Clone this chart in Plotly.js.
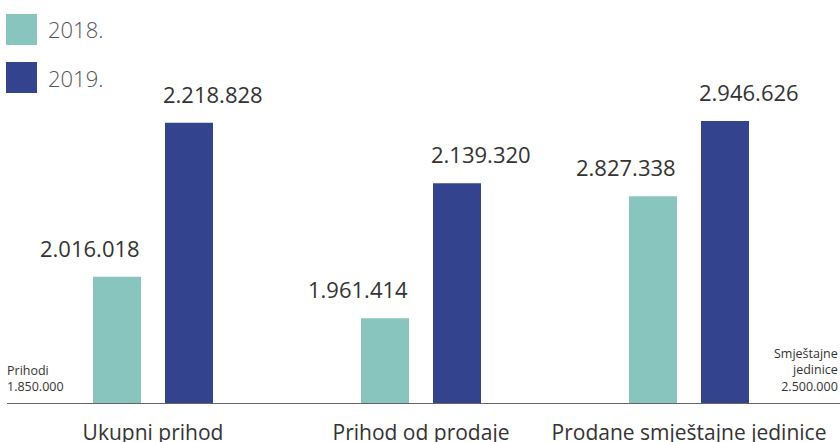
<!DOCTYPE html>
<html>
<head>
<meta charset="utf-8">
<script src="https://cdn.plot.ly/plotly-3.0.1.min.js"></script>
<style>
html,body{margin:0;padding:0;background:#fff;}
#chart{width:840px;height:442px;}
</style>
</head>
<body>
<div id="chart"></div>
<script>
// ---- data ----
const categories = ["Ukupni prihod", "Prihod od prodaje", "Prodane smještajne jedinice"];
const seriesNames = ["2018.", "2019."];
const values2018 = [2016018, 1961414, 2827338];
const values2019 = [2218828, 2139320, 2946626];
const axisOfCategory = ["y", "y", "y2"];   // first two on "Prihodi", last on "Smještajne jedinice"
const leftBase = 1850000;
const rightBase = 2500000;
const leftAxisLabel = "Prihodi<br>1.850.000";
const rightAxisLabel = "Smještajne<br>jedinice<br>2.500.000";

// ---- style ----
const colors = ["#87C5BE", "#33438D"];
const fontFam = "'Open Sans', 'Noto Sans', sans-serif";
const W = 840, H = 442;
const margin = {l: 7, r: 0, t: 0, b: 39};
const plotW = W - margin.l - margin.r;
const plotH = H - margin.t - margin.b;
const slotPx = 268;
const barPx = 48, innerGapPx = 24;
const unit = 1 / slotPx;
const firstCenterPx = 153;
const xStart = -(firstCenterPx - margin.l) * unit;
const xEnd = xStart + plotW * unit;
const leftPerPx = 1316, rightPerPx = 1584;

const offsets = [-(barPx + innerGapPx / 2) * unit, (innerGapPx / 2) * unit];
const seriesVals = [values2018, values2019];
// label anchoring: 2018 labels end at the bar's right edge, 2019 labels start at the bar's left edge
const labelX = [offsets[0] + barPx * unit, offsets[1]];
const labelAnchor = ["right", "left"];

function fmt(v) {
  return String(v).replace(/\B(?=(\d{3})+(?!\d))/g, ".");
}

const traces = [];
const annotations = [];
seriesVals.forEach((vals, s) => {
  ["y", "y2"].forEach(ax => {
    const base = ax === "y2" ? rightBase : leftBase;
    const ys = vals.map((v, i) => axisOfCategory[i] === ax ? v - base : null);
    traces.push({
      type: "bar",
      x: categories,
      y: ys,
      base: base,
      name: seriesNames[s],
      yaxis: ax,
      offset: offsets[s],
      width: barPx * unit,
      marker: {color: colors[s], line: {width: 0}},
      showlegend: false,
      hoverinfo: "skip"
    });
  });
  vals.forEach((v, i) => {
    annotations.push({
      x: i + labelX[s],
      y: v,
      xref: "x",
      yref: axisOfCategory[i],
      text: fmt(v),
      showarrow: false,
      xanchor: labelAnchor[s],
      xshift: s === 0 ? 1 : -4,
      yanchor: "bottom",
      yshift: 12,
      font: {family: fontFam, size: 22, color: "#333333"}
    });
  });
});

// axis side labels
annotations.push({
  xref: "paper", yref: "paper", x: 0, y: 0, xanchor: "left", yanchor: "bottom",
  xshift: -2, yshift: 6, text: leftAxisLabel, align: "left", showarrow: false,
  font: {family: fontFam, size: 12.5, color: "#333333"}
});
annotations.push({
  xref: "paper", yref: "paper", x: 1, y: 0, xanchor: "right", yanchor: "bottom",
  xshift: 0, yshift: 6, text: rightAxisLabel, align: "right", showarrow: false,
  font: {family: fontFam, size: 12.5, color: "#333333"}
});

// legend (large swatches)
const shapes = [];
const legendRows = [{top: 14}, {top: 62}];
seriesNames.forEach((nm, s) => {
  const top = legendRows[s].top, size = 31, left = 6;
  shapes.push({
    type: "rect", xref: "paper", yref: "paper",
    x0: (left - margin.l) / plotW, x1: (left + size - margin.l) / plotW,
    y0: 1 - (top + size - margin.t) / plotH, y1: 1 - (top - margin.t) / plotH,
    fillcolor: colors[s], line: {width: 0}
  });
  annotations.push({
    xref: "paper", yref: "paper",
    x: (46 - margin.l) / plotW, y: 1 - (top + size / 2 - margin.t) / plotH,
    xanchor: "left", yanchor: "middle", text: nm, showarrow: false,
    font: {family: fontFam, size: 22, color: "#555555", weight: 300}
  });
});

const layout = {
  width: W, height: H,
  margin: margin,
  paper_bgcolor: "#ffffff",
  plot_bgcolor: "#ffffff",
  barmode: "overlay",
  showlegend: false,
  xaxis: {
    type: "category",
    range: [xStart, xEnd],
    showline: true, linecolor: "#666666", linewidth: 1,
    showgrid: false, zeroline: false, ticks: "",
    tickfont: {family: fontFam, size: 21, color: "#333333"},
    ticklabelstandoff: 11,
    fixedrange: true
  },
  yaxis: {
    range: [leftBase, leftBase + plotH * leftPerPx],
    visible: false, showgrid: false, zeroline: false, fixedrange: true
  },
  yaxis2: {
    range: [rightBase, rightBase + plotH * rightPerPx],
    overlaying: "y", side: "right",
    visible: false, showgrid: false, zeroline: false, fixedrange: true
  },
  annotations: annotations,
  shapes: shapes,
  font: {family: fontFam}
};

Plotly.newPlot("chart", traces, layout, {staticPlot: true, displayModeBar: false});
</script>
</body>
</html>
